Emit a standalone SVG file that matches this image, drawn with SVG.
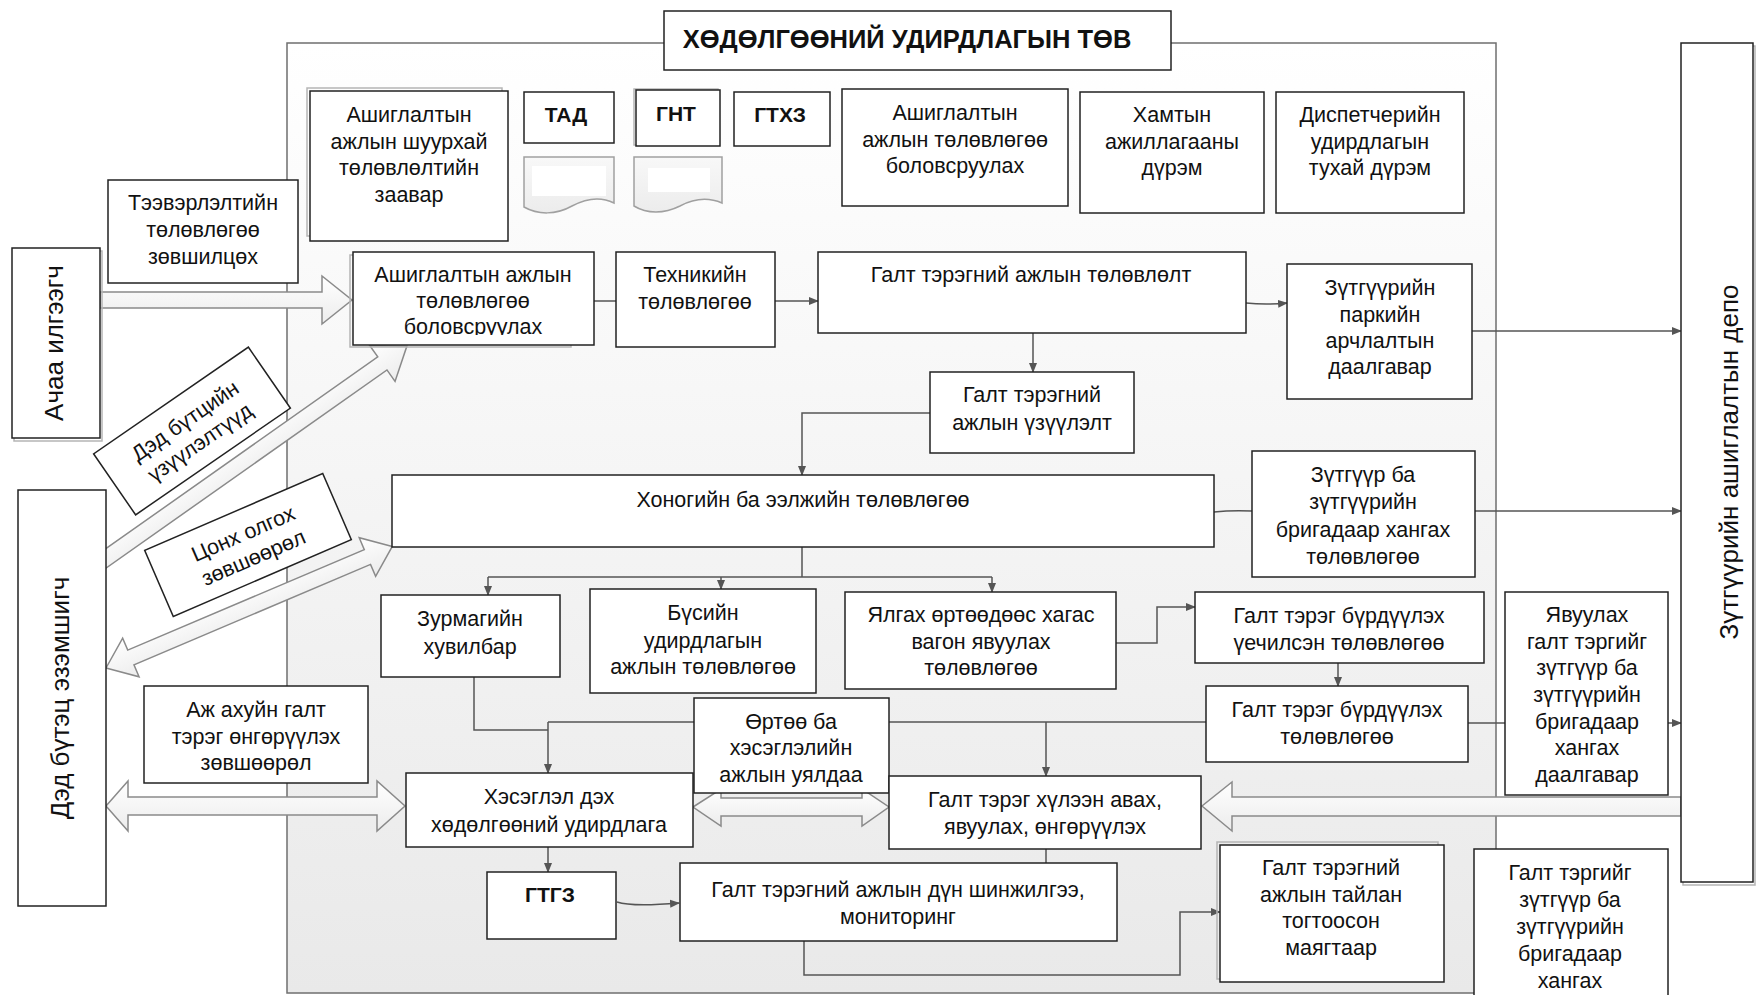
<svg xmlns="http://www.w3.org/2000/svg" width="1760" height="995" viewBox="0 0 1760 995">
<defs>
<linearGradient id="bg" x1="0" y1="0" x2="0" y2="1"><stop offset="0" stop-color="#ffffff"/><stop offset="1" stop-color="#e9e9e9"/></linearGradient>
<linearGradient id="ba" x1="0" y1="0" x2="0" y2="1"><stop offset="0" stop-color="#ffffff"/><stop offset="1" stop-color="#ececec"/></linearGradient>
<linearGradient id="dg" x1="0" y1="0" x2="0" y2="1"><stop offset="0" stop-color="#f8f8f8"/><stop offset="1" stop-color="#ececec"/></linearGradient>
<marker id="ah" viewBox="0 0 10 10" refX="9" refY="5" markerWidth="10" markerHeight="10" markerUnits="userSpaceOnUse" orient="auto"><path d="M0,1 L10,5 L0,9 Z" fill="#555"/></marker>
<clipPath id="clip14"><rect x="353" y="252" width="241" height="83"/></clipPath>
</defs>
<style>
.box{fill:#fff;stroke:#222;stroke-width:1.5}
.shd{fill:none;stroke:#b5b5b5;stroke-width:1.5}
.t{font-family:"Liberation Sans",Arial,sans-serif;font-size:21.5px;fill:#111;text-anchor:middle}
.b{font-weight:bold;font-size:21px}
.v{font-size:26px}
.ttl{font-family:"Liberation Sans",Arial,sans-serif;font-size:25.5px;font-weight:bold;fill:#111;text-anchor:middle}
.ln{fill:none;stroke:#555;stroke-width:1.5}
.arr{fill:none;stroke:#555;stroke-width:1.5;marker-end:url(#ah)}
.blk{fill:url(#ba);stroke:#8a8a8a;stroke-width:1.5;stroke-linejoin:miter}
.doc{fill:url(#dg);stroke:#a0a0a0;stroke-width:1.5}
</style>

<g id="container">
<rect x="287" y="43" width="1209" height="950" fill="url(#bg)" stroke="#6f6f6f" stroke-width="1.5"/>
</g>

<g id="connectors">
<line class="ln" x1="594" y1="301" x2="616" y2="301"/>
<line class="arr" x1="775" y1="301" x2="818" y2="301"/>
<path class="arr" d="M1246,303 Q1266,305 1287,303"/>
<line class="arr" x1="1472" y1="331" x2="1681" y2="331"/>
<line class="arr" x1="1033" y1="333" x2="1033" y2="372"/>
<polyline class="arr" points="930,413 802,413 802,475"/>
<path class="ln" d="M1214,512 Q1232,510 1252,511"/>
<line class="arr" x1="1475" y1="511" x2="1681" y2="511"/>
<line class="ln" x1="802" y1="547" x2="802" y2="577"/>
<line class="ln" x1="488" y1="577" x2="992" y2="577"/>
<line class="arr" x1="488" y1="577" x2="488" y2="595"/>
<line class="arr" x1="721" y1="577" x2="721" y2="589"/>
<line class="arr" x1="992" y1="577" x2="992" y2="592"/>
<polyline class="arr" points="1116,643 1157,643 1157,607 1195,607"/>
<line class="arr" x1="1338" y1="663" x2="1338" y2="686"/>
<line class="arr" x1="1468" y1="723" x2="1681" y2="723"/>
<polyline class="ln" points="474,677 474,730 548,730"/>
<line class="ln" x1="548" y1="722" x2="1206" y2="722"/>
<line class="arr" x1="548" y1="722" x2="548" y2="773"/>
<line class="arr" x1="1046" y1="722" x2="1046" y2="776"/>
<line class="arr" x1="548" y1="847" x2="548" y2="872"/>
<path class="arr" d="M617,902 Q632,907 679,903"/>
<line class="ln" x1="1046" y1="849" x2="1046" y2="863"/>
<polyline class="arr" points="804,941 804,975 1180,975 1180,912 1220,912"/>
<path class="blk" d="M100,292 L322,292 L322,276 L352,300 L322,324 L322,308 L100,308 Z"/>
<path class="blk" transform="translate(98,564) rotate(-35.2)" d="M0,-8 L348,-8 L348,-22 L378,0 L348,22 L348,8 L0,8 Z"/>
<path class="blk" transform="translate(106,668) rotate(-23.0)" d="M0,0 L27,-21 L27,-8 L284,-8 L284,-21 L311,0 L284,21 L284,8 L27,8 L27,21 Z"/>
<path class="blk" d="M106,806 L128,781 L128,797 L377,797 L377,781 L405,806 L377,831 L377,815 L128,815 L128,831 Z"/>
<path class="blk" d="M693,807 L721,789 L721,798 L862,798 L862,789 L889,807 L862,826 L862,816 L721,816 L721,826 Z"/>
<path class="blk" d="M1681,797 L1232,797 L1232,782 L1202,806 L1232,831 L1232,816 L1681,816 Z"/>
</g>

<g id="title">
<rect class="box" x="664" y="11" width="507" height="59"/>
<text class="ttl" x="907" y="48">ХӨДӨЛГӨӨНИЙ УДИРДЛАГЫН ТӨВ</text>
</g>

<g id="n1">
<rect class="shd" x="307" y="88" width="195" height="148"/>
<rect class="box" x="310" y="91" width="198" height="150"/>
<text class="t" x="409" y="122">Ашиглалтын</text>
<text class="t" x="409" y="149">ажлын шуурхай</text>
<text class="t" x="409" y="175">төлөвлөлтийн</text>
<text class="t" x="409" y="202">заавар</text>
</g>

<g id="n2">
<rect class="box" x="524" y="92" width="90" height="51"/>
<text class="t b" x="566" y="122">ТАД</text>
<path class="doc" d="M524,157 H614 V203 C600,196 585,199 572,206 C556,215 538,215 524,207 Z"/>
<rect x="532" y="166" width="74" height="30" fill="#fff"/>
</g>

<g id="n3">
<rect class="shd" x="634" y="89" width="84" height="56"/>
<rect class="box" x="636" y="90" width="84" height="56"/>
<text class="t b" x="676" y="121">ГНТ</text>
<path class="doc" d="M634,157 H722 V203 C708,197 693,199 680,206 C664,214 647,214 634,206 Z"/>
<rect x="648" y="168" width="62" height="24" fill="#fff"/>
</g>

<g id="n4">
<rect class="box" x="734" y="92" width="96" height="54"/>
<text class="t b" x="780" y="122">ГТХЗ</text>
</g>

<g id="n5">
<rect class="box" x="842" y="89" width="226" height="117"/>
<text class="t" x="955" y="120">Ашиглалтын</text>
<text class="t" x="955" y="147">ажлын төлөвлөгөө</text>
<text class="t" x="955" y="173">боловсруулах</text>
</g>

<g id="n6">
<rect class="box" x="1080" y="92" width="184" height="121"/>
<text class="t" x="1172" y="122">Хамтын</text>
<text class="t" x="1172" y="149">ажиллагааны</text>
<text class="t" x="1172" y="175">дүрэм</text>
</g>

<g id="n7">
<rect class="box" x="1276" y="92" width="188" height="121"/>
<text class="t" x="1370" y="122">Диспетчерийн</text>
<text class="t" x="1370" y="149">удирдлагын</text>
<text class="t" x="1370" y="175">тухай дүрэм</text>
</g>

<g id="n8">
<rect class="box" x="108" y="180" width="190" height="103"/>
<text class="t" x="203" y="210">Тээвэрлэлтийн</text>
<text class="t" x="203" y="237">төлөвлөгөө</text>
<text class="t" x="203" y="264">зөвшилцөх</text>
</g>

<g id="n9">
<rect class="shd" x="14" y="251" width="88" height="190"/>
<rect class="box" x="12" y="248" width="88" height="190"/>
<text class="t v" transform="translate(63,343) rotate(-90)">Ачаа илгээгч</text>
</g>

<g id="n10">
<rect class="box" x="18" y="490" width="88" height="416"/>
<text class="t v" transform="translate(69,698) rotate(-90)">Дэд бүтэц эзэмшигч</text>
</g>

<g id="n11">
<rect class="shd" x="1683" y="46" width="72" height="839"/>
<rect class="box" x="1681" y="43" width="72" height="839"/>
<text class="t v" transform="translate(1738,462) rotate(-90)">Зүтгүүрийн ашиглалтын депо</text>
</g>

<g id="n12" transform="translate(192,431) rotate(-34.6)">
<rect class="box" x="-94" y="-37" width="188" height="74"/>
<text class="t" x="0" y="-5">Дэд бүтцийн</text>
<text class="t" x="0" y="21">үзүүлэлтүүд</text>
</g>

<g id="n13" transform="translate(248,545) rotate(-23.4)">
<rect class="box" x="-97" y="-36" width="194" height="72"/>
<text class="t" x="0" y="-5">Цонх олгох</text>
<text class="t" x="0" y="21">зөвшөөрөл</text>
</g>

<g id="n14">
<rect class="shd" x="350" y="255" width="221" height="92"/>
<rect class="box" x="353" y="252" width="241" height="93"/>
<g clip-path="url(#clip14)">
<text class="t" x="473" y="282">Ашиглалтын ажлын</text>
<text class="t" x="473" y="308">төлөвлөгөө</text>
<text class="t" x="473" y="334">боловсруулах</text>
</g>
</g>

<g id="n15">
<rect class="box" x="616" y="252" width="159" height="95"/>
<text class="t" x="695" y="282">Техникийн</text>
<text class="t" x="695" y="309">төлөвлөгөө</text>
</g>

<g id="n16">
<rect class="box" x="818" y="252" width="428" height="81"/>
<text class="t" x="1031" y="282">Галт тэрэгний ажлын төлөвлөлт</text>
</g>

<g id="n17">
<rect class="box" x="1287" y="264" width="185" height="135"/>
<text class="t" x="1380" y="295">Зүтгүүрийн</text>
<text class="t" x="1380" y="322">паркийн</text>
<text class="t" x="1380" y="348">арчлалтын</text>
<text class="t" x="1380" y="374">даалгавар</text>
</g>

<g id="n18">
<rect class="box" x="930" y="372" width="204" height="81"/>
<text class="t" x="1032" y="402">Галт тэрэгний</text>
<text class="t" x="1032" y="430">ажлын үзүүлэлт</text>
</g>

<g id="n19">
<rect class="box" x="392" y="475" width="822" height="72"/>
<text class="t" x="803" y="507">Хоногийн ба ээлжийн төлөвлөгөө</text>
</g>

<g id="n20">
<rect class="box" x="1252" y="451" width="223" height="126"/>
<text class="t" x="1363" y="482">Зүтгүүр ба</text>
<text class="t" x="1363" y="509">зүтгүүрийн</text>
<text class="t" x="1363" y="537">бригадаар хангах</text>
<text class="t" x="1363" y="564">төлөвлөгөө</text>
</g>

<g id="n21">
<rect class="box" x="381" y="595" width="179" height="82"/>
<text class="t" x="470" y="626">Зурмагийн</text>
<text class="t" x="470" y="654">хувилбар</text>
</g>

<g id="n22">
<rect class="box" x="590" y="589" width="226" height="104"/>
<text class="t" x="703" y="620">Бүсийн</text>
<text class="t" x="703" y="648">удирдлагын</text>
<text class="t" x="703" y="674">ажлын төлөвлөгөө</text>
</g>

<g id="n23">
<rect class="box" x="845" y="592" width="271" height="97"/>
<text class="t" x="981" y="622">Ялгах өртөөдөөс хагас</text>
<text class="t" x="981" y="649">вагон явуулах</text>
<text class="t" x="981" y="675">төлөвлөгөө</text>
</g>

<g id="n24">
<rect class="box" x="1195" y="592" width="289" height="71"/>
<text class="t" x="1339" y="623">Галт тэрэг бүрдүүлэх</text>
<text class="t" x="1339" y="650">үечилсэн төлөвлөгөө</text>
</g>

<g id="n25">
<rect class="box" x="1206" y="686" width="262" height="76"/>
<text class="t" x="1337" y="717">Галт тэрэг бүрдүүлэх</text>
<text class="t" x="1337" y="744">төлөвлөгөө</text>
</g>

<g id="n26">
<rect class="box" x="1505" y="592" width="163" height="203"/>
<text class="t" x="1587" y="622">Явуулах</text>
<text class="t" x="1587" y="649">галт тэргийг</text>
<text class="t" x="1587" y="675">зүтгүүр ба</text>
<text class="t" x="1587" y="702">зүтгүүрийн</text>
<text class="t" x="1587" y="729">бригадаар</text>
<text class="t" x="1587" y="755">хангах</text>
<text class="t" x="1587" y="782">даалгавар</text>
</g>

<g id="n27">
<rect class="box" x="144" y="686" width="224" height="97"/>
<text class="t" x="256" y="717">Аж ахуйн галт</text>
<text class="t" x="256" y="744">тэрэг өнгөрүүлэх</text>
<text class="t" x="256" y="770">зөвшөөрөл</text>
</g>

<g id="n28">
<rect class="box" x="694" y="698" width="195" height="95"/>
<text class="t" x="791" y="729">Өртөө ба</text>
<text class="t" x="791" y="755">хэсэглэлийн</text>
<text class="t" x="791" y="782">ажлын уялдаа</text>
</g>

<g id="n29">
<rect class="box" x="406" y="773" width="287" height="74"/>
<text class="t" x="549" y="804">Хэсэглэл дэх</text>
<text class="t" x="549" y="832">хөдөлгөөний удирдлага</text>
</g>

<g id="n30">
<rect class="box" x="889" y="776" width="312" height="73"/>
<text class="t" x="1045" y="807">Галт тэрэг хүлээн авах,</text>
<text class="t" x="1045" y="834">явуулах, өнгөрүүлэх</text>
</g>

<g id="n31">
<rect class="box" x="487" y="872" width="129" height="67"/>
<text class="t b" x="550" y="902">ГТГЗ</text>
</g>

<g id="n32">
<rect class="box" x="680" y="863" width="437" height="78"/>
<text class="t" x="898" y="897">Галт тэрэгний ажлын дүн шинжилгээ,</text>
<text class="t" x="898" y="924">мониторинг</text>
</g>

<g id="n33">
<rect class="shd" x="1217" y="842" width="221" height="137"/>
<rect class="box" x="1220" y="845" width="224" height="137"/>
<text class="t" x="1331" y="875">Галт тэрэгний</text>
<text class="t" x="1331" y="902">ажлын тайлан</text>
<text class="t" x="1331" y="928">тогтоосон</text>
<text class="t" x="1331" y="955">маягтаар</text>
</g>

<g id="n34">
<rect class="box" x="1474" y="849" width="194" height="160"/>
<text class="t" x="1570" y="880">Галт тэргийг</text>
<text class="t" x="1570" y="907">зүтгүүр ба</text>
<text class="t" x="1570" y="934">зүтгүүрийн</text>
<text class="t" x="1570" y="961">бригадаар</text>
<text class="t" x="1570" y="988">хангах</text>
</g>
</svg>
